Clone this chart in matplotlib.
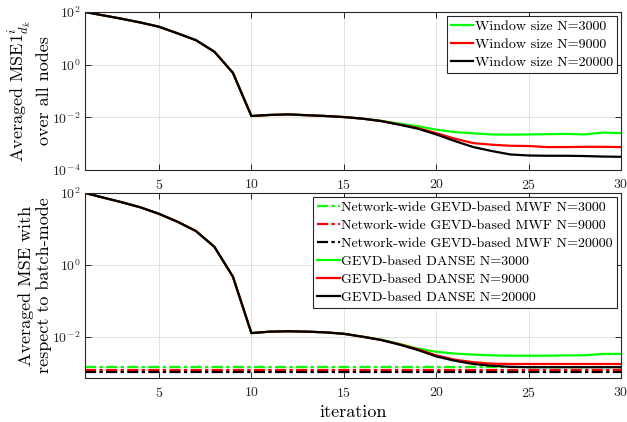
import numpy as np
import matplotlib.pyplot as plt

plt.rcParams['font.family'] = ['cmr10', 'DejaVu Serif']
plt.rcParams['mathtext.fontset'] = 'cm'
plt.rcParams['axes.formatter.use_mathtext'] = True

iters = np.arange(1, 31)

# top panel: log10 of averaged MSE1 over all nodes
top_n3000 = [2.0, 1.87, 1.74, 1.6, 1.44, 1.19, 0.93, 0.49, -0.31, -1.95,
             -1.91, -1.89, -1.92, -1.95, -1.99, -2.05, -2.13, -2.24, -2.34, -2.47,
             -2.56, -2.61, -2.65, -2.66, -2.65, -2.64, -2.63, -2.65, -2.58, -2.6]
top_n9000 = [2.0, 1.87, 1.74, 1.6, 1.44, 1.19, 0.93, 0.49, -0.31, -1.95,
             -1.91, -1.89, -1.92, -1.95, -1.99, -2.05, -2.14, -2.27, -2.41, -2.60,
             -2.81, -2.98, -3.04, -3.08, -3.09, -3.13, -3.13, -3.12, -3.12, -3.13]
top_n20000 = [2.0, 1.87, 1.74, 1.6, 1.44, 1.19, 0.93, 0.49, -0.31, -1.95,
              -1.91, -1.89, -1.92, -1.95, -1.99, -2.05, -2.14, -2.28, -2.43, -2.65,
              -2.90, -3.13, -3.28, -3.41, -3.45, -3.46, -3.46, -3.47, -3.49, -3.5]

# bottom panel: log10 of MSE w.r.t. batch-mode
danse_n3000 = [2.0, 1.87, 1.74, 1.6, 1.42, 1.2, 0.94, 0.5, -0.33, -1.9,
               -1.86, -1.85, -1.86, -1.88, -1.92, -2.0, -2.08, -2.2, -2.33, -2.42,
               -2.47, -2.5, -2.52, -2.53, -2.53, -2.53, -2.52, -2.52, -2.48, -2.48]
danse_n9000 = [2.0, 1.87, 1.74, 1.6, 1.42, 1.2, 0.94, 0.5, -0.33, -1.9,
               -1.86, -1.85, -1.86, -1.88, -1.92, -2.0, -2.09, -2.21, -2.35, -2.52,
               -2.64, -2.71, -2.75, -2.76, -2.76, -2.76, -2.76, -2.76, -2.76, -2.76]
danse_n20000 = [2.0, 1.87, 1.74, 1.6, 1.42, 1.2, 0.94, 0.5, -0.33, -1.9,
                -1.86, -1.85, -1.86, -1.88, -1.92, -2.0, -2.09, -2.22, -2.37, -2.55,
                -2.67, -2.76, -2.81, -2.84, -2.85, -2.85, -2.85, -2.85, -2.85, -2.85]
mwf_level = {3000: -2.84, 9000: -2.92, 20000: -2.98}

sizes = [3000, 9000, 20000]
colors = ['#00ff00', '#ff0000', '#000000']

fig = plt.figure(figsize=(6.27, 4.22), dpi=100)
ax1 = fig.add_axes([0.1356, 0.5972, 0.855, 0.3744])
ax2 = fig.add_axes([0.1356, 0.1043, 0.855, 0.4384])

for n, c, v in zip(sizes, colors, [top_n3000, top_n9000, top_n20000]):
    ax1.semilogy(iters, 10 ** np.array(v), color=c, lw=1.6, label='Window size N=%d' % n)

for n, c in zip(sizes, colors):
    ax2.semilogy(iters, np.full(len(iters), 10 ** mwf_level[n]), color=c, lw=1.6,
                 ls=(0, (5, 1.5, 1.5, 1.5)), label='Network-wide GEVD-based MWF N=%d' % n)
for n, c, v in zip(sizes, colors, [danse_n3000, danse_n9000, danse_n20000]):
    ax2.semilogy(iters, 10 ** np.array(v), color=c, lw=1.6, label='GEVD-based DANSE N=%d' % n)

ax1.set_ylim(1e-4, 1e2)
ax1.set_yticks([1e-4, 1e-2, 1e0, 1e2])
ax2.set_ylim(10 ** -3.15, 1e2)
ax2.set_yticks([1e-2, 1e0, 1e2])

for ax in (ax1, ax2):
    ax.set_xlim(1, 30)
    ax.set_xticks([5, 10, 15, 20, 25, 30])
    ax.minorticks_off()
    ax.grid(True, color='#dddddd', lw=0.6)
    ax.set_axisbelow(True)
    ax.tick_params(direction='in', top=True, right=True, length=4, width=0.7,
                   labelsize=10, colors='#262626')
    ax.tick_params(axis='x', pad=6)
    ax.tick_params(axis='y', pad=3)
    for s in ax.spines.values():
        s.set_color('#262626')
        s.set_linewidth(0.8)

leg_kw = dict(fontsize=10.1, frameon=True, fancybox=False, edgecolor='#262626', framealpha=1,
              handlelength=1.6, handletextpad=0.1, labelspacing=0.36, borderpad=0.3,
              borderaxespad=0.3)
l1 = ax1.legend(loc='upper right', **leg_kw)
l2 = ax2.legend(loc='upper right', **leg_kw)
for l in (l1, l2):
    l.get_frame().set_linewidth(0.8)

ax1.set_ylabel('Averaged MSE1$^i_{d_k}$\nover all nodes', fontsize=13, labelpad=0)
ax2.set_ylabel('Averaged MSE with\nrespect to batch-mode', fontsize=13, labelpad=0)
ax2.set_xlabel('iteration', fontsize=13, labelpad=3)
fig.align_ylabels([ax1, ax2])

fig.savefig('out.png', dpi=100)
